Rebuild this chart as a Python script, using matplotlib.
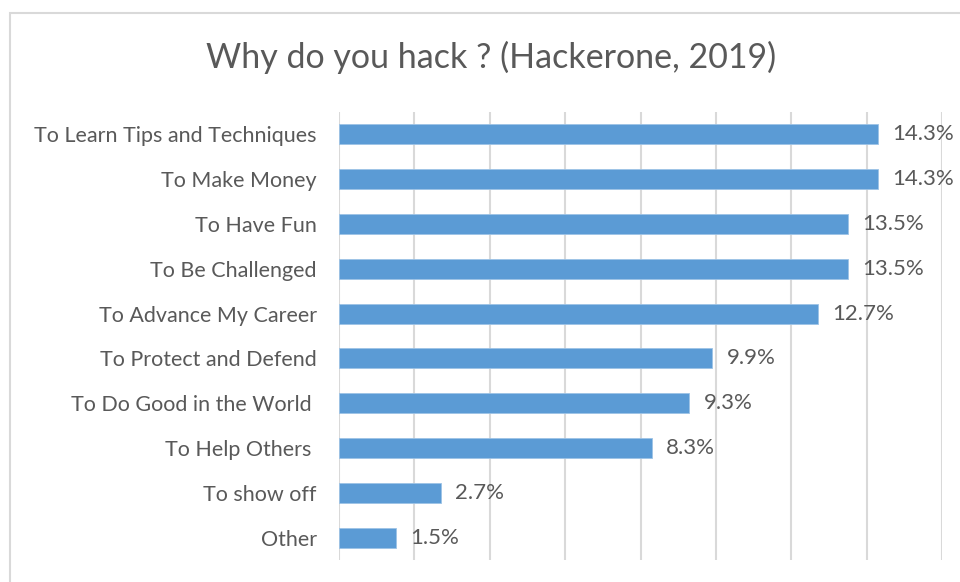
import matplotlib
matplotlib.use("Agg")
import matplotlib.pyplot as plt
from matplotlib.patches import Rectangle

plt.rcParams['font.family'] = ['Lato', 'DejaVu Sans']

categories = ['To Learn Tips and Techniques', 'To Make Money', 'To Have Fun',
              'To Be Challenged', 'To Advance My Career', 'To Protect and Defend',
              'To Do Good in the World ', 'To Help Others ', 'To show off', 'Other']
values = [14.3, 14.3, 13.5, 13.5, 12.7, 9.9, 9.3, 8.3, 2.7, 1.5]
x_ticks = [0, 2, 4, 6, 8, 10, 12, 14, 16]

text_color = '#595959'
bar_color = '#5B9BD5'
grid_color = '#D9D9D9'

fig = plt.figure(figsize=(9.6, 5.82), dpi=100)
ax = fig.add_axes([339 / 960, 1 - 560 / 582, (942 - 339) / 960, (560 - 112) / 582])

# chart border (Excel chart area)
fig.patches.append(Rectangle((10 / 960, -0.1), 1.2, 1 - 13 / 582 + 0.1,
                             transform=fig.transFigure, fill=False,
                             edgecolor=grid_color, linewidth=1.5))

y = list(range(len(categories)))
ax.barh(y, values, height=0.45, color=bar_color, edgecolor='#9DC3E6', linewidth=0.6, zorder=3)

for yi, v in zip(y, values):
    ax.text(v + 0.38, yi, f'{v}%', va='center', ha='left', fontsize=16, color=text_color)

ax.set_xlim(0, 16)
ax.set_ylim(len(categories) - 0.5, -0.5)
ax.set_xticks(x_ticks)
ax.set_xticklabels([])
ax.set_yticks(y)
ax.set_yticklabels(categories, fontsize=15.5, color=text_color)
ax.tick_params(axis='both', length=0)
ax.tick_params(axis='y', pad=16)
ax.grid(axis='x', color=grid_color, linewidth=1.5, zorder=0)
for s in ax.spines.values():
    s.set_visible(False)

fig.text(491 / 960, 1 - 57 / 582, 'Why do you hack ? (Hackerone, 2019)',
         ha='center', va='center', fontsize=24.5, color=text_color)

fig.savefig('out.png', dpi=100)
